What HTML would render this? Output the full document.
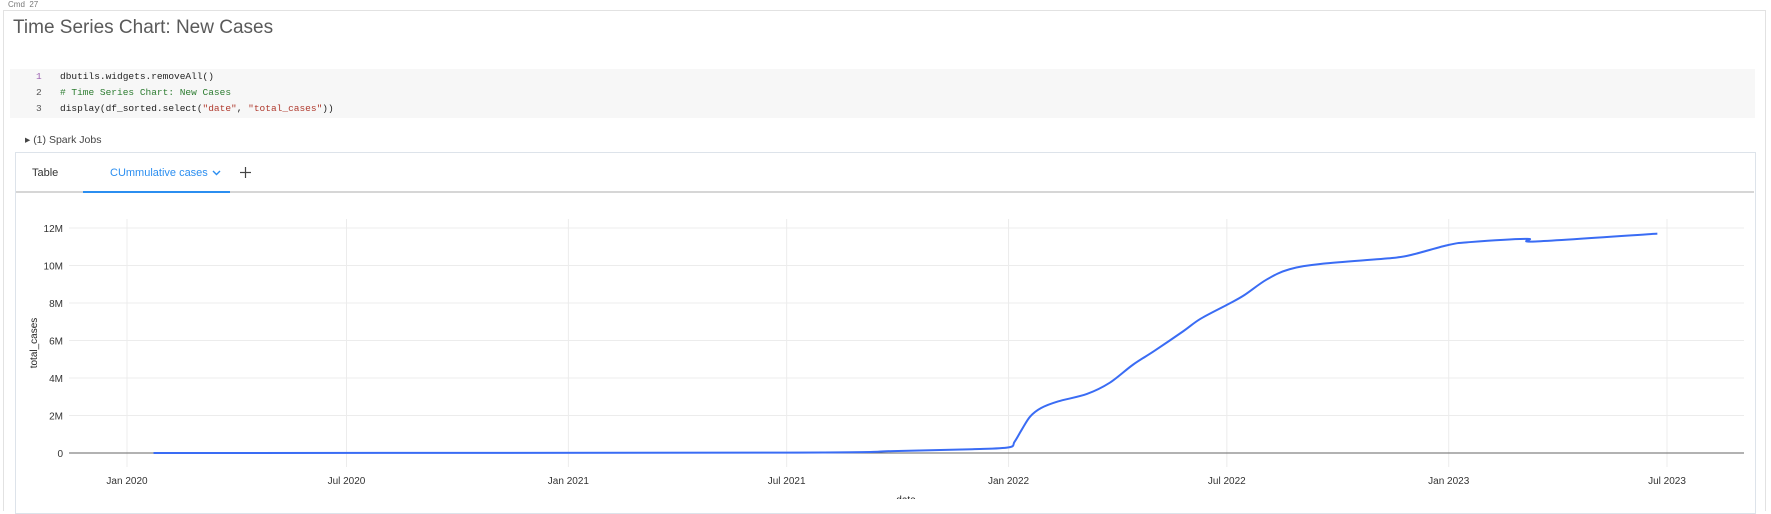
<!DOCTYPE html>
<html><head><meta charset="utf-8"><style>
body{margin:0;width:1771px;height:499px;overflow:hidden;background:#fff;font-family:"Liberation Sans",sans-serif;position:relative}
.abs{position:absolute;white-space:nowrap}
.code{font-family:"Liberation Mono",monospace;font-size:9.5px}
</style></head><body>
<div class="abs" style="left:8px;top:0px;font-size:8px;color:#777">Cmd&nbsp;&nbsp;27</div>
<div class="abs" style="left:3px;top:10px;width:1761px;height:500px;border:1px solid #e2e2e2;border-bottom:none"></div>
<div class="abs" style="left:13px;top:17px;font-size:19px;font-weight:300;color:#5a5a5a">Time Series Chart: New Cases</div>
<div class="abs" style="left:10px;top:69px;width:1745px;height:49px;background:#f7f7f7">
 <div class="abs code" style="left:26px;top:2px;color:#9a5fb0">1</div>
 <div class="abs code" style="left:26px;top:18px;color:#555">2</div>
 <div class="abs code" style="left:26px;top:34px;color:#555">3</div>
 <div class="abs code" style="left:50px;top:2px;color:#222">dbutils.widgets.removeAll()</div>
 <div class="abs code" style="left:50px;top:18px;color:#2e7d32"># Time Series Chart: New Cases</div>
 <div class="abs code" style="left:50px;top:34px;color:#222">display(df_sorted.select(<span style="color:#b03a2e">"date"</span>, <span style="color:#b03a2e">"total_cases"</span>))</div>
</div>
<div class="abs" style="left:25px;top:134px;font-size:10.5px;color:#444">&#9656; (1) Spark Jobs</div>
<div class="abs" style="left:15px;top:152px;width:1739px;height:360px;border:1px solid #dde3ea"></div>
<div class="abs" style="left:32px;top:167px;font-size:11px;color:#333">Table</div>
<div class="abs" style="left:110px;top:167px;font-size:11px;color:#2b8ef0">CUmmulative cases</div>
<svg class="abs" style="left:212px;top:170px" width="9" height="6"><polyline points="1,1 4.5,4.5 8,1" fill="none" stroke="#2b8ef0" stroke-width="1.4"/></svg>
<svg class="abs" style="left:240px;top:167px" width="11" height="11"><line x1="5.5" y1="0" x2="5.5" y2="11" stroke="#444" stroke-width="1.2"/><line x1="0" y1="5.5" x2="11" y2="5.5" stroke="#444" stroke-width="1.2"/></svg>
<div class="abs" style="left:16px;top:191px;width:1738px;height:2px;background:#d6d6d6"></div>
<div class="abs" style="left:83px;top:191px;width:147px;height:2px;background:#2b8ef0"></div>
<svg class="abs" style="left:0;top:0" width="1771" height="499" id="chart"></svg>
<script>
const dates=["2020-01-23","2021-07-01","2021-09-27","2021-12-02","2022-01-01","2022-01-06","2022-01-12","2022-01-19","2022-01-28","2022-02-11","2022-03-07","2022-03-26","2022-04-14","2022-05-02","2022-05-26","2022-06-09","2022-07-01","2022-07-15","2022-08-03","2022-08-22","2022-09-19","2022-11-15","2022-12-03","2023-01-01","2023-01-19","2023-03-07","2023-03-14","2023-06-23"];
const totalCases=[0,0.02,0.1,0.2,0.3,0.6,1.25,1.95,2.4,2.75,3.15,3.75,4.7,5.45,6.5,7.15,7.9,8.4,9.25,9.8,10.1,10.4,10.6,11.1,11.25,11.42,11.28,11.7];
const yTicks=[0,2,4,6,8,10,12];
const yTickLabels=["0","2M","4M","6M","8M","10M","12M"];
const xTicks=["2020-01-01","2020-07-01","2021-01-01","2021-07-01","2022-01-01","2022-07-01","2023-01-01","2023-07-01"];
const xTickLabels=["Jan 2020","Jul 2020","Jan 2021","Jul 2021","Jan 2022","Jul 2022","Jan 2023","Jul 2023"];
const svg=document.getElementById('chart');const NS="http://www.w3.org/2000/svg";
const t0=Date.parse("2020-01-01"),t1=Date.parse("2023-07-01");
function xs(d){return 127+(Date.parse(d)-t0)/(t1-t0)*1540;}
function ys(v){return 453-v*18.75;}
function mk(tag,attrs){const e=document.createElementNS(NS,tag);for(const k in attrs)e.setAttribute(k,attrs[k]);svg.appendChild(e);return e;}
yTicks.forEach((v,i)=>{
 const g=mk('line',{x1:69,x2:1744,y1:ys(v),y2:ys(v),stroke:v===0?'#666':'#ececec','stroke-width':1});
 
 
 const t=mk('text',{x:63,y:ys(v)+4,'text-anchor':'end','font-size':10,fill:'#333','font-family':'Liberation Sans, sans-serif'});
 t.textContent=yTickLabels[i];
 
 
});
xTicks.forEach((d,i)=>{
 const g=mk('line',{x1:xs(d),x2:xs(d),y1:219,y2:467,stroke:'#ececec','stroke-width':1});
 
 
 const t=mk('text',{x:xs(d),y:484,'text-anchor':'middle','font-size':10,fill:'#333','font-family':'Liberation Sans, sans-serif'});
 t.textContent=xTickLabels[i];
 
 
});
const ax=mk('line',{x1:69,x2:1744,y1:453,y2:453,stroke:'#666','stroke-width':1});


let pts=dates.map((d,i)=>[xs(d),ys(totalCases[i])]);
let dstr="M"+pts[0][0]+","+pts[0][1];
for(let i=0;i<pts.length-1;i++){const p0=pts[i-1]||pts[i],p1=pts[i],p2=pts[i+1],p3=pts[i+2]||p2;
 const c1=[p1[0]+(p2[0]-p0[0])/6,p1[1]+(p2[1]-p0[1])/6],c2=[p2[0]-(p3[0]-p1[0])/6,p2[1]-(p3[1]-p1[1])/6];
 dstr+=" C"+c1+" "+c2+" "+p2;}
const path=mk('path',{d:dstr,fill:'none',stroke:'#3a6cf4','stroke-width':2});


const yt=mk('text',{x:0,y:0,transform:'translate(37,343) rotate(-90)','text-anchor':'middle','font-size':10,fill:'#222','font-family':'Liberation Sans, sans-serif'});
yt.textContent='total_cases';


const xt=mk('text',{x:906,y:503,'text-anchor':'middle','font-size':10,fill:'#222','font-family':'Liberation Sans, sans-serif'});
xt.textContent='date';


</script>
</body></html>
